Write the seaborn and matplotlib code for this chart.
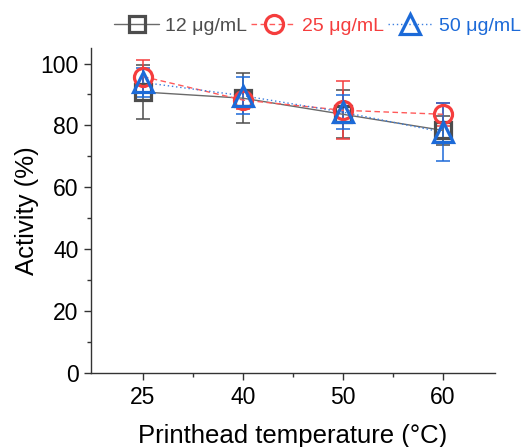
import numpy as np
import pandas as pd
import matplotlib
matplotlib.use('Agg')
import matplotlib.pyplot as plt
import seaborn as sns
from matplotlib.ticker import FixedLocator, MultipleLocator

# Values
temps = ['25', '40', '50', '60']
act_12 = [90.8, 88.8, 83.6, 78.4]
err_12 = [8.7, 8.0, 7.8, 4.6]
act_25 = [95.8, 88.2, 84.9, 83.6]
err_25 = [5.3, 3.0, 9.4, 3.7]
act_50 = [93.9, 89.6, 84.3, 77.8]
err_50 = [4.8, 6.0, 5.5, 9.3]

series = ['12 μg/mL', '25 μg/mL', '50 μg/mL']
colors = ['#4d4d4d', '#F53D3D', '#1C6AD8']
line_colors = ['#6a6a6a', '#FF5A5A', '#3C7FE0']
markers = ['s', 'o', '^']
msizes = [11, 13, 15]
lstyles = ['-', (0, (4, 2.5)), (0, (1, 2))]

sns.set_style('ticks')
plt.rcParams['font.family'] = ['Liberation Sans', 'DejaVu Sans']

fig = plt.figure(figsize=(5.23, 4.47), dpi=100)
ax = fig.add_axes([0.174, 0.1655, 0.772, 0.727])

pos = np.arange(len(temps))
values = [act_12, act_25, act_50]
errors = [err_12, err_25, err_50]

handles = []
for name, v, e, c, lc, m, ms, ls in zip(series, values, errors, colors, line_colors,
                                        markers, msizes, lstyles):
    df = pd.DataFrame({'pos': pos, 'act': v})
    ax.errorbar(pos, v, yerr=e, fmt='none', ecolor=c, elinewidth=1.1,
                capsize=5, capthick=1.1, zorder=2)
    sns.lineplot(data=df, x='pos', y='act', ax=ax, color=lc, linewidth=1.0,
                 zorder=3)
    ax.lines[-1].set_linestyle(ls)
    ax.plot(pos, v, linestyle='none', marker=m, markersize=ms,
            markerfacecolor='none', markeredgecolor=c, markeredgewidth=2.3,
            zorder=4)
    h, = ax.plot([], [], color=lc, linestyle=ls, linewidth=1.0, marker=m,
                 markersize=ms, markerfacecolor='none', markeredgecolor=c,
                 markeredgewidth=2.3)
    handles.append(h)

ax.set_xlim(-0.52, 3.52)
ax.set_ylim(0, 105)
ax.set_xticks(pos)
ax.set_xticklabels(temps)
ax.xaxis.set_minor_locator(FixedLocator([0.5, 1.5, 2.5]))
ax.yaxis.set_major_locator(FixedLocator([0, 20, 40, 60, 80, 100]))
ax.yaxis.set_minor_locator(MultipleLocator(10))
ax.tick_params(axis='both', which='major', labelsize=16.5, length=5, width=1,
               direction='out', color='#333333', labelcolor='black', pad=4)
ax.tick_params(axis='both', which='minor', length=3, width=1, color='#333333')

for side in ['top', 'right']:
    ax.spines[side].set_visible(False)
for side in ['left', 'bottom']:
    ax.spines[side].set_color('#333333')
    ax.spines[side].set_linewidth(1.0)

ax.set_xlabel('Printhead temperature (°C)', fontsize=18.5, labelpad=11,
              color='black')
ax.set_ylabel('Activity (%)', fontsize=18.5, labelpad=1, color='black')

leg = fig.legend(handles, series, loc='center', bbox_to_anchor=(0.607, 0.942),
                 ncol=3, frameon=False, fontsize=14, handlelength=2.3,
                 handletextpad=0.3, columnspacing=0.22, borderaxespad=0,
                 borderpad=0)
for txt, c in zip(leg.get_texts(), colors):
    txt.set_color(c)

fig.savefig('out.png', dpi=100)
